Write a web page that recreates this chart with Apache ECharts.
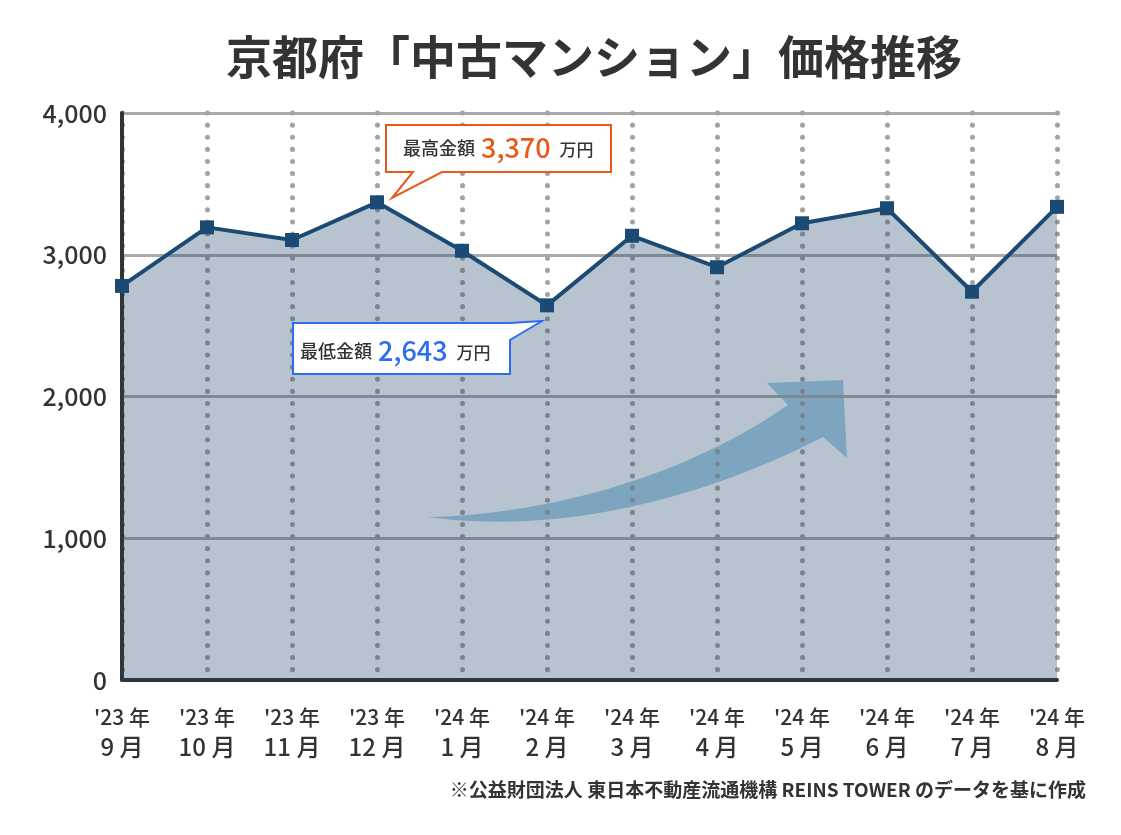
<!DOCTYPE html>
<html>
<head>
<meta charset="utf-8">
<script src="https://cdn.jsdelivr.net/npm/echarts@6/dist/echarts.min.js"></script>
<style>
html,body{margin:0;padding:0;background:#fff;}
#c{width:1121px;height:835px;}
</style>
</head>
<body>
<div id="c"></div>
<script>
const titleText = '京都府「中古マンション」価格推移';
const yearLabels = ["'23 年","'23 年","'23 年","'23 年","'24 年","'24 年","'24 年","'24 年","'24 年","'24 年","'24 年","'24 年"];
const monthLabels = ['9 月','10 月','11 月','12 月','1 月','2 月','3 月','4 月','5 月','6 月','7 月','8 月'];
const prices = [2780, 3193, 3104, 3370, 3028, 2643, 3134, 2912, 3222, 3328, 2739, 3338];
const yTicks = [0, 1000, 2000, 3000, 4000];
const maxLabel = { head: '最高金額', value: '3,370', unit: '万円' };
const minLabel = { head: '最低金額', value: '2,643', unit: '万円' };
const sourceText = '※公益財団法人 東日本不動産流通機構 REINS TOWER のデータを基に作成';

const categories = yearLabels.map((y, i) => y + '\n' + monthLabels[i]);
const FONT = '"Noto Sans CJK JP", "Noto Sans", sans-serif';

// decorative arrow outline (sampled cubic curves)
function cubic(p0, p1, p2, p3, n) {
  const pts = [];
  for (let i = 0; i <= n; i++) {
    const t = i / n, u = 1 - t;
    pts.push([
      u*u*u*p0[0] + 3*u*u*t*p1[0] + 3*u*t*t*p2[0] + t*t*t*p3[0],
      u*u*u*p0[1] + 3*u*u*t*p1[1] + 3*u*t*t*p2[1] + t*t*t*p3[1]
    ]);
  }
  return pts;
}
const arrowPts = []
  .concat(cubic([427,517],[560,535],[700,500],[823,437], 30))
  .concat([[847,458],[843,380],[767,383]])
  .concat(cubic([788,405],[680,480],[540,515],[427,517], 30));

const chart = echarts.init(document.getElementById('c'), null, { renderer: 'canvas' });

const calloutRich = function (valueColor) {
  return {
    h: { fontSize: 18, fill: '#333333', fontFamily: FONT, fontWeight: 500 },
    v: { fontSize: 27, fill: valueColor, fontFamily: FONT, fontWeight: 500, padding: [0, 5, 0, 6] },
    u: { fontSize: 17, fill: '#333333', fontFamily: FONT, fontWeight: 500, padding: [3, 0, 0, 4] }
  };
};

chart.setOption({
  backgroundColor: '#ffffff',
  animation: false,
  grid: { left: 122, right: 64, top: 113, bottom: 155, containLabel: false },
  xAxis: {
    type: 'category',
    data: categories,
    boundaryGap: false,
    axisLine: { show: true, lineStyle: { color: '#333333', width: 4 } },
    axisTick: { show: false },
    axisLabel: {
      margin: 22,
      interval: 0,
      formatter: function (v) {
        const p = v.split('\n');
        return '{y|' + p[0] + '}\n{m|' + p[1] + '}';
      },
      rich: {
        y: { fontSize: 21, color: '#333333', fontFamily: FONT, lineHeight: 30, fontWeight: 500 },
        m: { fontSize: 24, color: '#333333', fontFamily: FONT, lineHeight: 30, fontWeight: 500 }
      }
    },
    splitLine: {
      show: true,
      lineStyle: { color: '#a2a2a2', width: 5, type: [0.1, 12], cap: 'round' }
    }
  },
  yAxis: {
    type: 'value',
    min: yTicks[0],
    max: yTicks[yTicks.length - 1],
    interval: 1000,
    axisLine: { show: true, lineStyle: { color: '#333333', width: 4 } },
    axisTick: { show: false },
    axisLabel: {
      margin: 15,
      fontSize: 25,
      color: '#333333',
      fontFamily: FONT,
      fontWeight: 500,
      formatter: function (v) { return v.toLocaleString('en-US'); }
    },
    splitLine: { show: true, lineStyle: { color: '#aaaaaa', width: 3 } }
  },
  series: [{
    type: 'line',
    data: prices,
    z: 3,
    symbol: 'rect',
    symbolSize: 14,
    showAllSymbol: true,
    lineStyle: { color: '#1b4a75', width: 4 },
    itemStyle: { color: '#1b4a75' },
    areaStyle: { color: 'rgba(30,70,110,0.32)', opacity: 1, origin: 'start' }
  }],
  graphic: [
    {
      type: 'text',
      z: 101,
      x: 594,
      y: 57,
      style: {
        text: titleText,
        align: 'center',
        verticalAlign: 'middle',
        fontSize: 46,
        fontWeight: 'bold',
        fill: '#333333',
        fontFamily: FONT
      }
    },
    {
      type: 'polygon',
      z: -1,
      silent: true,
      shape: { points: arrowPts },
      style: { fill: '#acd2e6' }
    },
    {
      type: 'polygon',
      z: 100,
      shape: { points: [[386,125],[611,125],[611,172],[442,172],[392,198],[413,172],[386,172]] },
      style: { fill: '#ffffff', stroke: '#e8591a', lineWidth: 2 }
    },
    {
      type: 'text',
      z: 101,
      x: 403,
      y: 148,
      style: {
        text: '{h|' + maxLabel.head + '}{v|' + maxLabel.value + '}{u|' + maxLabel.unit + '}',
        verticalAlign: 'middle',
        align: 'left',
        rich: calloutRich('#e8591a')
      }
    },
    {
      type: 'polygon',
      z: 100,
      shape: { points: [[293,323],[510,323],[542,321],[510,340],[510,374],[293,374]] },
      style: { fill: '#ffffff', stroke: '#2b6ef2', lineWidth: 2 }
    },
    {
      type: 'text',
      z: 101,
      x: 300,
      y: 351,
      style: {
        text: '{h|' + minLabel.head + '}{v|' + minLabel.value + '}{u|' + minLabel.unit + '}',
        verticalAlign: 'middle',
        align: 'left',
        rich: calloutRich('#2b6ef2')
      }
    },
    {
      type: 'text',
      z: 101,
      x: 1086,
      y: 790,
      style: {
        text: sourceText,
        align: 'right',
        verticalAlign: 'middle',
        fontSize: 19,
        fontWeight: 'bold',
        fill: '#333333',
        fontFamily: FONT
      }
    }
  ]
});
</script>
</body>
</html>
